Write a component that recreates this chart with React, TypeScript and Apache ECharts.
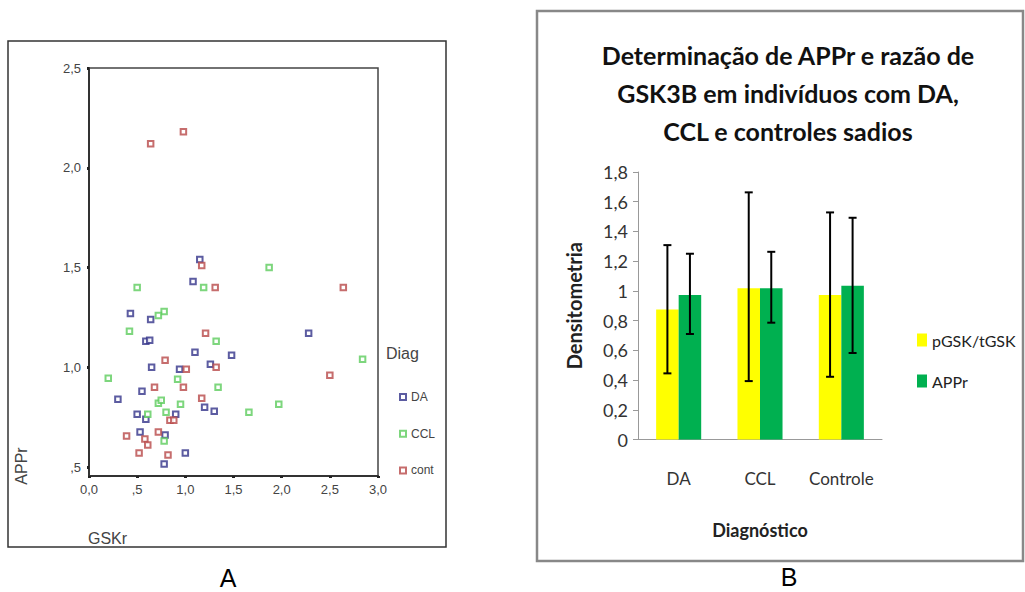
import React, { useEffect, useRef } from "react";
import * as echarts from "echarts";

// ---------- Panel A data (GSKr, APPr) ----------
const daPoints: [number, number][] = [
  [1.15, 1.54], [1.08, 1.43], [0.43, 1.27], [0.64, 1.24], [0.59, 1.13], [0.63, 1.135],
  [1.10, 1.075], [1.48, 1.06], [2.28, 1.17], [0.65, 1.0], [0.94, 0.99], [1.26, 1.015],
  [0.55, 0.88], [0.30, 0.84], [1.20, 0.80], [1.30, 0.78], [0.90, 0.765], [0.50, 0.765],
  [0.59, 0.74], [0.53, 0.675], [0.79, 0.66], [1.00, 0.57], [0.78, 0.515],
];
const cclPoints: [number, number][] = [
  [1.87, 1.50], [0.50, 1.40], [1.19, 1.40], [0.78, 1.28], [0.72, 1.26], [0.42, 1.18],
  [1.32, 1.13], [0.20, 0.945], [0.92, 0.94], [1.34, 0.90], [0.72, 0.82], [0.75, 0.835],
  [0.95, 0.815], [0.80, 0.775], [0.61, 0.765], [1.66, 0.775], [1.97, 0.815], [2.84, 1.04],
  [0.78, 0.63],
];
const contPoints: [number, number][] = [
  [0.64, 2.12], [0.98, 2.18], [1.17, 1.51], [1.31, 1.40], [2.64, 1.40], [1.21, 1.17],
  [0.79, 1.035], [1.01, 0.99], [1.32, 1.0], [0.68, 0.90], [0.98, 0.90], [1.17, 0.845],
  [0.84, 0.735], [0.88, 0.735], [0.72, 0.675], [0.39, 0.655], [0.58, 0.64], [0.61, 0.61],
  [0.52, 0.57], [0.82, 0.56], [2.50, 0.96],
];

// ---------- Panel B data ----------
const categories = ["DA", "CCL", "Controle"];
const pgskValues = [0.874, 1.018, 0.973];
const apprValues = [0.973, 1.018, 1.034];
const pgskErrLow = [0.445, 0.393, 0.422];
const pgskErrHigh = [1.308, 1.663, 1.528];
const apprErrLow = [0.71, 0.786, 0.582];
const apprErrHigh = [1.25, 1.263, 1.492];

const fmtSpss = (v: number) => {
  if (Math.abs(v) < 1e-9) return "0,0";
  if (Math.abs(v * 2 - Math.round(v * 2)) > 1e-6) return "";
  const s = v.toFixed(1).replace(".", ",");
  return s.startsWith("0,") ? s.slice(1) : s;
};
const fmtExcel = (v: number) => {
  const r = Math.round(v * 10) / 10;
  if (Math.abs(r - Math.round(r)) < 1e-9) return String(Math.round(r));
  return r.toFixed(1).replace(".", ",");
};

const SANS = "Liberation Sans, Arial, sans-serif";
const CAL = "Lato, Open Sans, sans-serif";

export default function App() {
  const ref = useRef<HTMLDivElement>(null);
  useEffect(() => {
    if (!ref.current) return;
    const chart = echarts.init(ref.current, null, { renderer: "svg" });
    const bandFrac = 0.554;
    const errSeries = (name: string, lows: number[], highs: number[], sign: number) => ({
      type: "custom",
      name,
      xAxisIndex: 1,
      yAxisIndex: 1,
      z: 10,
      data: categories.map((_, i) => [i, lows[i], highs[i]]),
      encode: { x: 0, y: [1, 2] },
      renderItem: (params: any, api: any) => {
        const xi = api.value(0);
        const lo = api.coord([xi, api.value(1)]);
        const hi = api.coord([xi, api.value(2)]);
        const band = api.size([1, 0])[0];
        const cx = lo[0] + (sign * band * bandFrac) / 4;
        const cap = 4;
        const st = { stroke: "#000", lineWidth: 2 };
        return {
          type: "group",
          children: [
            { type: "line", shape: { x1: cx, y1: lo[1], x2: cx, y2: hi[1] }, style: st },
            { type: "line", shape: { x1: cx - cap, y1: lo[1], x2: cx + cap, y2: lo[1] }, style: st },
            { type: "line", shape: { x1: cx - cap, y1: hi[1], x2: cx + cap, y2: hi[1] }, style: st },
          ],
        };
      },
    });

    const option: any = {
      animation: false,
      backgroundColor: "#fff",
      title: {
        text: "Determinação de APPr e razão de\nGSK3B em indivíduos com DA,\nCCL e controles sadios",
        left: 783,
        top: 31,
        textAlign: "center",
        textStyle: { fontFamily: CAL, fontWeight: "bold", fontSize: 25, lineHeight: 38, color: "#111" },
      },
      grid: [
        { left: 89, top: 68, right: 1025 - 378, bottom: 592 - 476, show: true, borderColor: "#444", borderWidth: 1.5, backgroundColor: "transparent" },
        { left: 638, top: 172, right: 1025 - 882, bottom: 592 - 439.5 },
      ],
      legend: [
        {
          data: ["DA", "CCL", "cont"],
          orient: "vertical",
          left: 394,
          top: 386,
          itemWidth: 6,
          itemHeight: 6,
          itemGap: 24.7,
          textStyle: { fontFamily: SANS, fontSize: 12, lineHeight: 12, color: "#444" },
        },
        {
          data: ["pGSK/tGSK", "APPr"],
          orient: "vertical",
          left: 912,
          top: 327,
          icon: "rect",
          itemWidth: 10,
          itemHeight: 13,
          itemGap: 25,
          textStyle: { fontFamily: CAL, fontSize: 16, lineHeight: 16, color: "#222" },
        },
      ],
      xAxis: [
        {
          type: "value",
          gridIndex: 0,
          min: 0,
          max: 3,
          interval: 0.5,
          splitLine: { show: false },
          axisLine: { show: true, onZero: false, lineStyle: { color: "#333", width: 2 } },
          axisTick: { show: true, length: 2, lineStyle: { color: "#222", width: 3 } },
          axisLabel: { formatter: fmtSpss, fontFamily: SANS, fontSize: 13, color: "#444", margin: 7 },
        },
        {
          type: "category",
          gridIndex: 1,
          data: categories,
          name: "Diagnóstico",
          nameLocation: "middle",
          nameGap: 81,
          nameTextStyle: { fontFamily: CAL, fontWeight: "bold", fontSize: 18, color: "#222" },
          axisLine: { lineStyle: { color: "#999", width: 1 } },
          axisTick: { show: false },
          axisLabel: { interval: 0, hideOverlap: false, fontFamily: CAL, fontSize: 17, color: "#333", margin: 30 },
        },
      ],
      yAxis: [
        {
          type: "value",
          gridIndex: 0,
          min: 0.455,
          max: 2.5,
          minInterval: 0.5,
          maxInterval: 0.5,
          splitLine: { show: false },
          axisLine: { show: true, onZero: false, lineStyle: { color: "#333", width: 2 } },
          axisTick: { show: true, length: 2, lineStyle: { color: "#222", width: 3 } },
          axisLabel: { formatter: fmtSpss, fontFamily: SANS, fontSize: 13, color: "#444", margin: 8, showMinLabel: false },
        },
        {
          type: "value",
          gridIndex: 1,
          min: 0,
          max: 1.8,
          interval: 0.2,
          name: "Densitometria",
          nameLocation: "middle",
          nameRotate: 90,
          nameGap: 54,
          nameTextStyle: { fontFamily: CAL, fontWeight: "bold", fontSize: 20, color: "#222" },
          splitLine: { show: false },
          axisLine: { show: true, lineStyle: { color: "#999", width: 1 } },
          axisTick: { show: true, length: 5, lineStyle: { color: "#999" } },
          axisLabel: { formatter: fmtExcel, fontFamily: CAL, fontSize: 18, color: "#333", margin: 10 },
        },
      ],
      graphic: [
        { type: "rect", shape: { x: 8, y: 41, width: 438, height: 506 }, style: { fill: "none", stroke: "#333", lineWidth: 1.5 }, z: -1 },
        { type: "rect", shape: { x: 537, y: 11, width: 486, height: 550 }, style: { fill: "none", stroke: "#888", lineWidth: 2.5 }, z: -1 },
        { type: "text", x: 386, y: 353, style: { text: "Diag", fontFamily: SANS, fontSize: 16, fill: "#444", textVerticalAlign: "middle" } },
        { type: "text", x: 21, y: 466, rotation: Math.PI / 2, style: { text: "APPr", fontFamily: SANS, fontSize: 16, fill: "#444", textAlign: "center", textVerticalAlign: "middle" } },
        { type: "text", x: 88, y: 538, style: { text: "GSKr", fontFamily: SANS, fontSize: 16, fill: "#444", textVerticalAlign: "middle" } },
        { type: "text", x: 228, y: 578, style: { text: "A", fontFamily: SANS, fontSize: 25, fill: "#000", textAlign: "center", textVerticalAlign: "middle" } },
        { type: "text", x: 789, y: 577, style: { text: "B", fontFamily: SANS, fontSize: 25, fill: "#000", textAlign: "center", textVerticalAlign: "middle" } },
      ],
      series: [
        { type: "scatter", name: "DA", xAxisIndex: 0, yAxisIndex: 0, symbol: "emptyRect", symbolSize: 5.5, itemStyle: { color: "#33338a", borderWidth: 1.5 }, data: daPoints },
        { type: "scatter", name: "CCL", xAxisIndex: 0, yAxisIndex: 0, symbol: "emptyRect", symbolSize: 5.5, itemStyle: { color: "#5ccc5c", borderWidth: 1.5 }, data: cclPoints },
        { type: "scatter", name: "cont", xAxisIndex: 0, yAxisIndex: 0, symbol: "emptyRect", symbolSize: 5.5, itemStyle: { color: "#b84848", borderWidth: 1.5 }, data: contPoints },
        { type: "bar", name: "pGSK/tGSK", xAxisIndex: 1, yAxisIndex: 1, data: pgskValues, barGap: "0%", barCategoryGap: "44.6%", itemStyle: { color: "#ffff00" } },
        { type: "bar", name: "APPr", xAxisIndex: 1, yAxisIndex: 1, data: apprValues, barGap: "0%", barCategoryGap: "44.6%", itemStyle: { color: "#00b050" } },
        errSeries("errP", pgskErrLow, pgskErrHigh, -1),
        errSeries("errA", apprErrLow, apprErrHigh, 1),
      ],
    };
    chart.setOption(option);
    return () => chart.dispose();
  }, []);
  return <div ref={ref} style={{ position: "fixed", left: 0, top: 0, width: 1025, height: 592 }} />;
}
